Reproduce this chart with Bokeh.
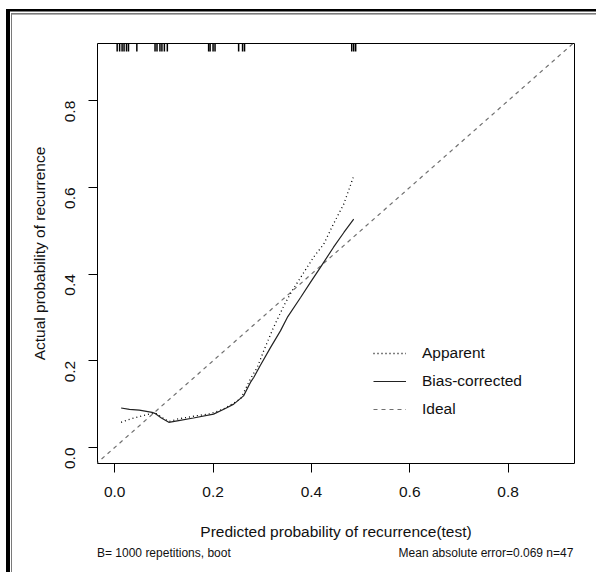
import math
from bokeh.plotting import figure
from bokeh.layouts import column
from bokeh.models import Range1d, FixedTicker, Legend, LegendItem, LinearAxis
from bokeh.embed import file_html
from bokeh.resources import INLINE

# ---- data ----
x_ticks = [0.0, 0.2, 0.4, 0.6, 0.8]
x_tick_labels = ["0.0", "0.2", "0.4", "0.6", "0.8"]
y_ticks = [0.0, 0.2, 0.4, 0.6, 0.8]
y_tick_labels = ["0.0", "0.2", "0.4", "0.6", "0.8"]

apparent_x = [0.013, 0.03, 0.05, 0.076, 0.085, 0.095, 0.110, 0.13, 0.16, 0.195, 0.22,
              0.256, 0.276, 0.290, 0.303, 0.323, 0.344, 0.361, 0.378, 0.405, 0.425,
              0.445, 0.466, 0.485]
apparent_y = [0.058, 0.065, 0.071, 0.079, 0.078, 0.070, 0.060, 0.066, 0.072, 0.078, 0.088,
              0.112, 0.158, 0.185, 0.223, 0.277, 0.327, 0.362, 0.392, 0.440, 0.469,
              0.516, 0.562, 0.623]

bias_x = [0.013, 0.03, 0.05, 0.076, 0.083, 0.095, 0.110, 0.13, 0.16, 0.201, 0.225,
          0.242, 0.262, 0.276, 0.283, 0.296, 0.317, 0.337, 0.351, 0.378, 0.398,
          0.418, 0.445, 0.466, 0.486]
bias_y = [0.091, 0.088, 0.086, 0.081, 0.078, 0.068, 0.058, 0.062, 0.068, 0.077, 0.090,
          0.100, 0.119, 0.150, 0.162, 0.189, 0.231, 0.269, 0.300, 0.346, 0.381,
          0.415, 0.462, 0.496, 0.527]

ideal = [-0.1, 1.0]

rug_x = [0.005, 0.010, 0.015, 0.019, 0.024, 0.028, 0.045, 0.082, 0.086, 0.092, 0.096,
         0.101, 0.107, 0.191, 0.194, 0.200, 0.204, 0.252, 0.260, 0.264, 0.482, 0.486, 0.490]

legend_labels = ["Apparent", "Bias-corrected", "Ideal"]
x_title = "Predicted probability of recurrence(test)"
y_title = "Actual probability of recurrence"
sub_texts = ["B= 1000 repetitions, boot", "Mean absolute error=0.069 n=47"]
sub_text_x = [0.100, 0.755]   # centres of the two sub-title texts on the x scale

FONT = "Liberation Sans"

p = figure(frame_width=477, frame_height=420,
           x_range=Range1d(-0.035, 0.935), y_range=Range1d(-0.037, 0.932),
           output_backend="svg", toolbar_location=None,
           min_border_left=84, min_border_right=22, min_border_top=28, min_border_bottom=109,
           margin=(15, 0, 0, 13))

p.border_fill_color = "white"
p.background_fill_color = "white"
p.outline_line_color = "black"
p.outline_line_width = 1

p.xgrid.visible = False
p.ygrid.visible = False

for ax, ticks, labels in ((p.xaxis[0], x_ticks, x_tick_labels), (p.yaxis[0], y_ticks, y_tick_labels)):
    ax.ticker = FixedTicker(ticks=ticks)
    ax.major_label_overrides = {t: l for t, l in zip(ticks, labels)}
    ax.axis_line_color = None
    ax.major_tick_line_color = "black"
    ax.major_tick_out = 9
    ax.major_tick_in = 0
    ax.minor_tick_line_color = None
    ax.major_label_text_font = FONT
    ax.major_label_text_font_size = "15.5px"
    ax.major_label_text_color = "#111"
    ax.axis_label_text_font = FONT
    ax.axis_label_text_font_size = "15.5px"
    ax.axis_label_text_font_style = "normal"
    ax.axis_label_text_color = "#111"

p.xaxis.axis_label = x_title
p.yaxis.axis_label = y_title
p.xaxis.major_label_standoff = 14
p.xaxis.axis_label_standoff = 23
p.yaxis.major_label_orientation = math.pi / 2
p.yaxis.major_label_standoff = 18
p.yaxis.axis_label_standoff = 10

# sub-title line (left and right texts) as an extra bottom axis without ticks
sub_axis = LinearAxis(ticker=FixedTicker(ticks=sub_text_x),
                      major_label_overrides={t: s for t, s in zip(sub_text_x, sub_texts)},
                      axis_line_color=None, major_tick_line_color=None,
                      minor_tick_line_color=None, major_tick_out=0, major_tick_in=0,
                      major_label_standoff=3, major_label_text_font=FONT,
                      major_label_text_font_size="12px", major_label_text_color="#111")
p.add_layout(sub_axis, "below")

r_ideal = p.line(ideal, ideal, line_color="#707070", line_width=1.2, line_dash="4 4")
r_app = p.line(apparent_x, apparent_y, line_color="black", line_width=1.3, line_dash="1 3")
r_bias = p.line(bias_x, bias_y, line_color="#222222", line_width=1.2)

y_top = p.y_range.end
p.scatter(rug_x, [y_top] * len(rug_x), marker="dash", angle=math.pi / 2, size=16,
          line_color="black", line_width=1.5)

legend = Legend(items=[LegendItem(label=legend_labels[0], renderers=[r_app]),
                       LegendItem(label=legend_labels[1], renderers=[r_bias]),
                       LegendItem(label=legend_labels[2], renderers=[r_ideal])],
                location=(276, 44), padding=0, margin=0, spacing=8,
                glyph_width=33, glyph_height=20, label_height=20, label_standoff=16,
                label_text_font=FONT, label_text_font_size="15.5px", label_text_color="#111",
                border_line_color=None, background_fill_alpha=0)
p.add_layout(legend)

# page frame (double rule at left and top, as in the reference), drawn around the figure
page = column(p, styles={
    "background-color": "white",
    "background-image": "linear-gradient(#000,#000), linear-gradient(#000,#000), "
                        "linear-gradient(#7a7a7a,#7a7a7a), linear-gradient(#7a7a7a,#7a7a7a)",
    "background-position": "6px 9px, 6px 9px, 11px 12.5px, 11px 12.5px",
    "background-size": "4px 100%, 100% 2.5px, 1.3px 100%, 100% 1.6px",
    "background-repeat": "no-repeat",
})

open("out.html", "w").write(file_html(page, INLINE))
